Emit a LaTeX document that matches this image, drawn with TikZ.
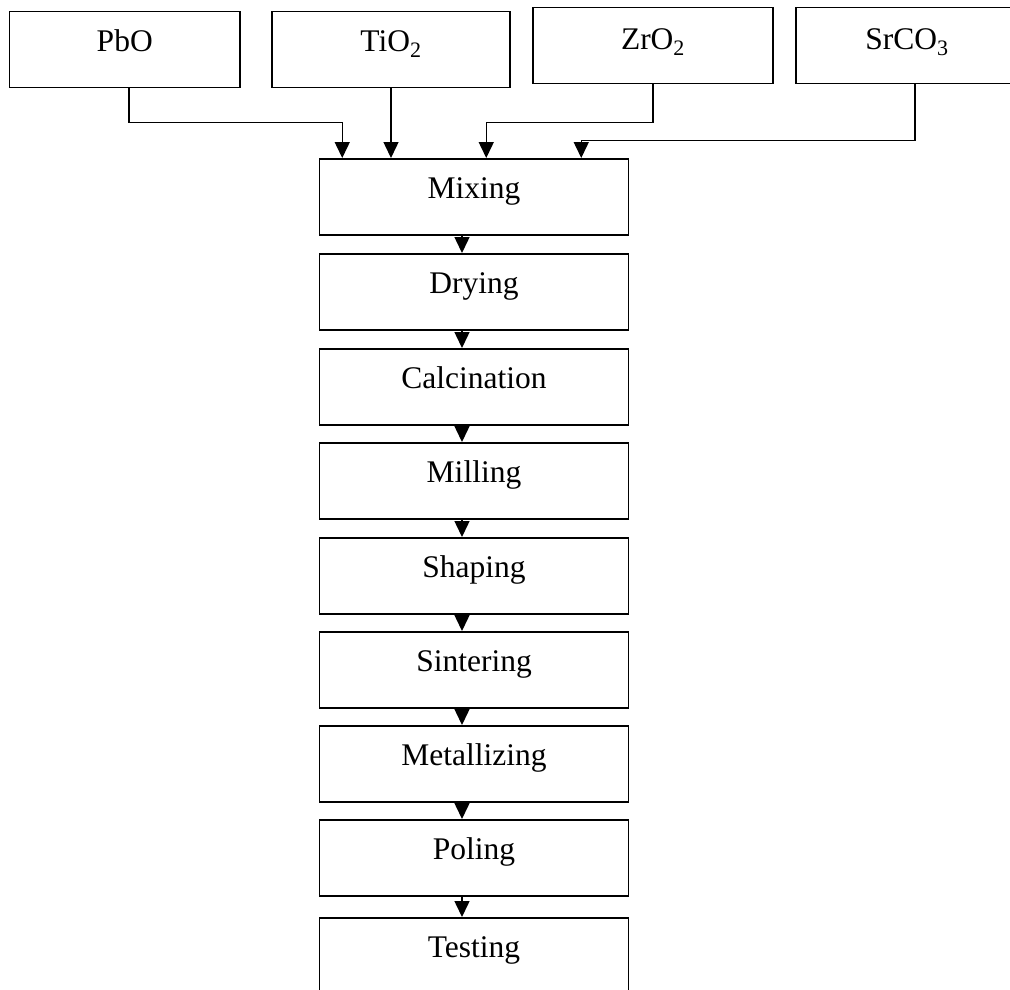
\documentclass[tikz,border=0pt]{standalone}
\usepackage{fontspec}
\setmainfont{Liberation Serif}
\usetikzlibrary{arrows.meta,calc}
\begin{document}
\begin{tikzpicture}[x=1pt,y=-1pt,
  box/.style={draw,line width=1.5pt,inner sep=0pt,anchor=north,
    minimum height=76pt,text height=40pt,text depth=36pt,
    font=\fontsize{31.5}{36}\selectfont},
  stepbox/.style={box,minimum width=309pt},
  conn/.style={line width=1.5pt,-{Triangle[width=15pt,length=16pt]}}]
\useasboundingbox (0,0) rectangle (1010,990);
\clip (0,0) rectangle (1010,990);
% raw materials
\node[box,minimum width=230.5pt] (pbo) at (124.75,11) {PbO};
\node[box,minimum width=238pt] (tio) at (391,11) {TiO\textsubscript{2}};
\node[box,minimum width=240pt,text height=42pt,text depth=34pt] (zro) at (653,7) {ZrO\textsubscript{2}};
\node[box,minimum width=222pt,text height=42pt,text depth=34pt] (sro) at (907,7) {SrCO\textsubscript{3}};
% process chain
\node[stepbox] (mix) at (474,158) {Mixing};
\node[stepbox] (dry) at (474,253) {Drying};
\node[stepbox] (cal) at (474,348) {Calcination};
\node[stepbox] (mil) at (474,442) {Milling};
\node[stepbox] (sha) at (474,537) {Shaping};
\node[stepbox] (sin) at (474,631) {Sintering};
\node[stepbox] (met) at (474,725) {Metallizing};
\node[stepbox] (pol) at (474,819) {Poling};
\node[stepbox] (tes) at (474,917) {Testing};
% inputs to mixing
\draw[conn] ($(pbo.south)+(4,0)$) -- ++(0,34) -| ($(mix.north west)+(23.5,0)$);
\draw[conn] (tio.south) -- (tio.south |- mix.north);
\draw[conn] (zro.south) -- ++(0,38) -| ($(mix.north west)+(167.5,0)$);
\draw[conn] ($(sro.south)+(8,0)$) -- ++(0,56) -| ($(mix.north west)+(262.5,0)$);
% chain arrows
\foreach \a/\b in {mix/dry,dry/cal,cal/mil,mil/sha,sha/sin,sin/met,met/pol,pol/tes}{
  \draw[conn] ($(\a.south)+(-12,0)$) -- ($(\b.north)+(-12,0)$);
}
\end{tikzpicture}
\end{document}
